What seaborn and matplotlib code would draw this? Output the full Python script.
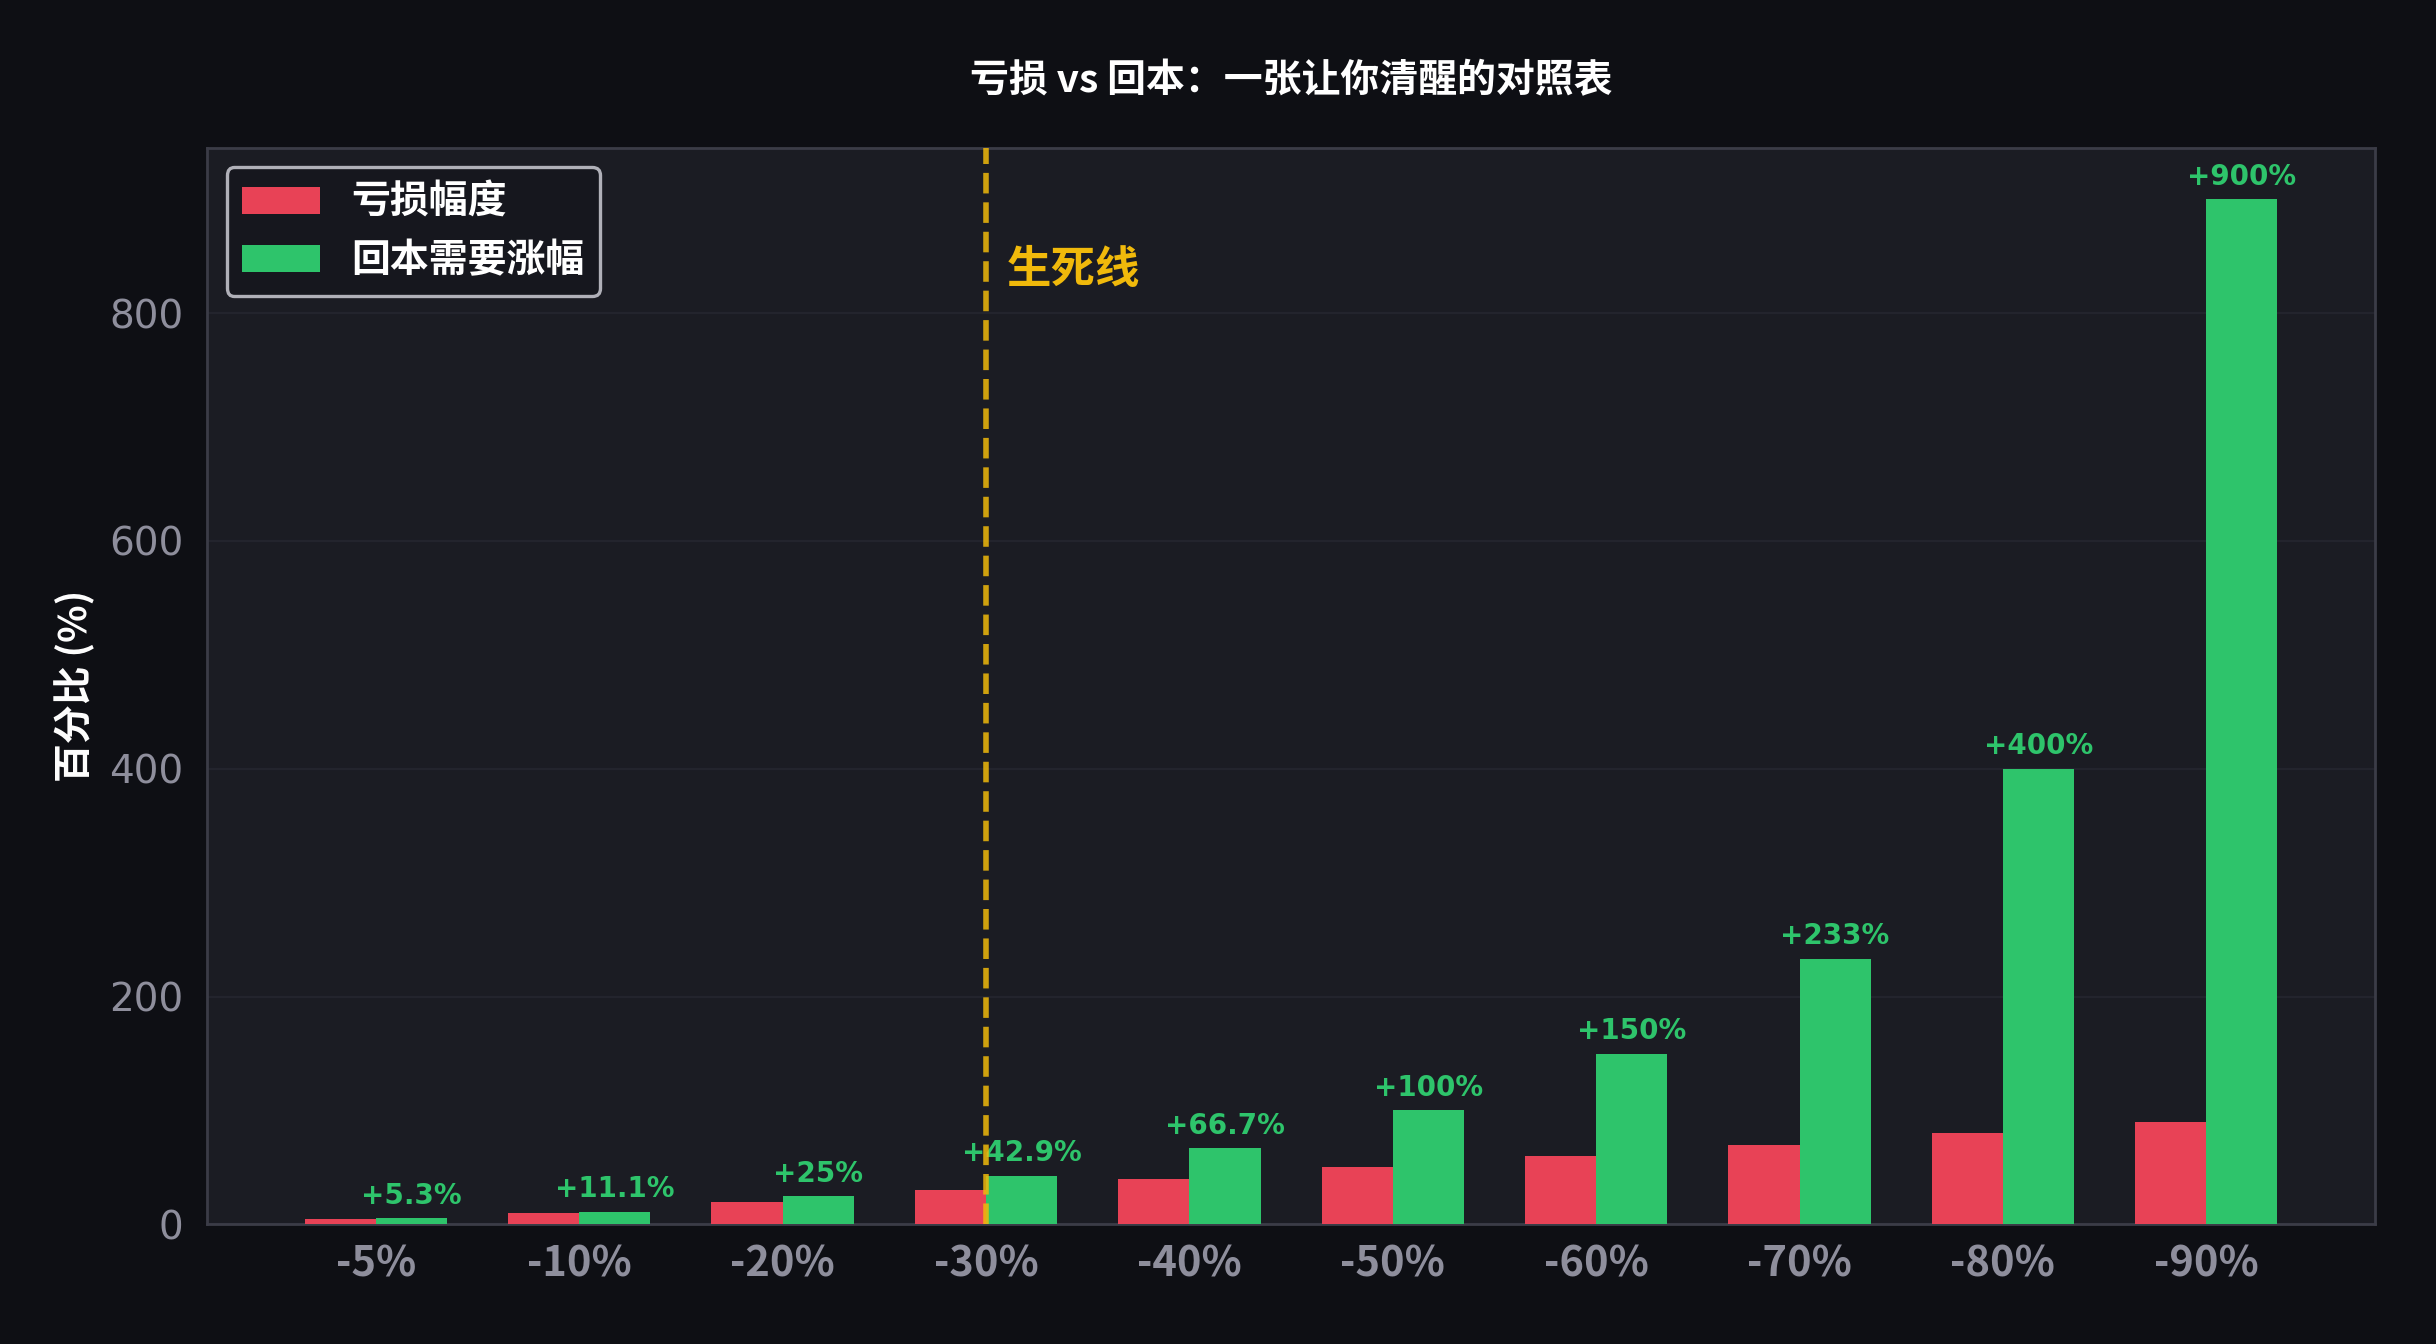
import pandas as pd
import seaborn as sns
import matplotlib
matplotlib.use('Agg')
import matplotlib.pyplot as plt

# 数据
loss_labels = ['-5%', '-10%', '-20%', '-30%', '-40%', '-50%', '-60%', '-70%', '-80%', '-90%']
loss_values = [5, 10, 20, 30, 40, 50, 60, 70, 80, 90]
recover_values = [5.26, 11.11, 25.0, 42.86, 66.67, 100.0, 150.0, 233.33, 400.0, 900.0]
recover_texts = ['+5.3%', '+11.1%', '+25%', '+42.9%', '+66.7%', '+100%', '+150%', '+233%', '+400%', '+900%']
series_names = ['亏损幅度', '回本需要涨幅']

df = pd.DataFrame({
    '档位': loss_labels * 2,
    '数值': loss_values + recover_values,
    '类型': [series_names[0]] * len(loss_labels) + [series_names[1]] * len(loss_labels),
})

bg_fig = '#0e0f14'
bg_ax = '#1b1c23'
red = '#e84256'
green = '#2ec46b'
gold = '#f0b90b'
grey = '#8e8e9c'
cjk = ['Noto Sans CJK SC', 'DejaVu Sans']

sns.set_theme(style='dark')
plt.rcParams['font.family'] = ['DejaVu Sans']

fig = plt.figure(figsize=(12.18, 6.72), dpi=200, facecolor=bg_fig)
ax = fig.add_axes([0.085, 0.089, 0.89, 0.801])
ax.set_facecolor(bg_ax)

sns.barplot(data=df, x='档位', y='数值', hue='类型', order=loss_labels, hue_order=series_names,
            palette=[red, green], width=0.7, saturation=1, linewidth=0, edgecolor='none',
            ax=ax, zorder=3)

# 回本涨幅标注
ax.bar_label(ax.containers[1], labels=recover_texts, padding=3, color=green,
             fontsize=10, fontweight='bold', family='DejaVu Sans')

# 生死线
ax.axvline(3, color=gold, linestyle='--', linewidth=2, alpha=0.85, zorder=4)
ax.text(3.1, 838, '生死线', color=gold, fontsize=16, fontweight='heavy', family=cjk,
        ha='left', va='center')

ax.set_xlim(-0.83, 9.83)
ax.set_ylim(0, 945)
ax.set_yticks([0, 200, 400, 600, 800])

ax.set_xlabel('')
ax.set_ylabel('百分比 (%)', color='white', fontsize=14, fontweight='heavy', family=cjk, labelpad=5)
ax.set_title('亏损 vs 回本：一张让你清醒的对照表', color='white', fontsize=14, fontweight='heavy',
             family=cjk, pad=20)

for lbl in ax.get_xticklabels():
    lbl.set_family(cjk)
    lbl.set_fontweight('heavy')
    lbl.set_fontsize(15)
    lbl.set_color(grey)
ax.tick_params(axis='x', colors=grey, length=5, width=1, pad=2)
ax.tick_params(axis='y', colors=grey, labelsize=14, length=5, width=1)

ax.grid(axis='y', color='#2a2b34', linewidth=0.8, alpha=0.6)
ax.set_axisbelow(True)
for s in ax.spines.values():
    s.set_visible(True)
    s.set_color('#3b3c47')
    s.set_linewidth(1)

leg = ax.legend(loc='upper left', frameon=True,
                prop={'family': cjk, 'weight': 'heavy', 'size': 14})
leg.get_frame().set_facecolor('#16171e')
leg.get_frame().set_edgecolor('#b0b0b8')
leg.get_frame().set_linewidth(1.2)
leg.get_frame().set_alpha(1)
for t in leg.get_texts():
    t.set_color('white')
for h in leg.legend_handles:
    h.set_edgecolor('none')
    h.set_linewidth(0)

fig.savefig('out.png', dpi=200, facecolor=bg_fig)
